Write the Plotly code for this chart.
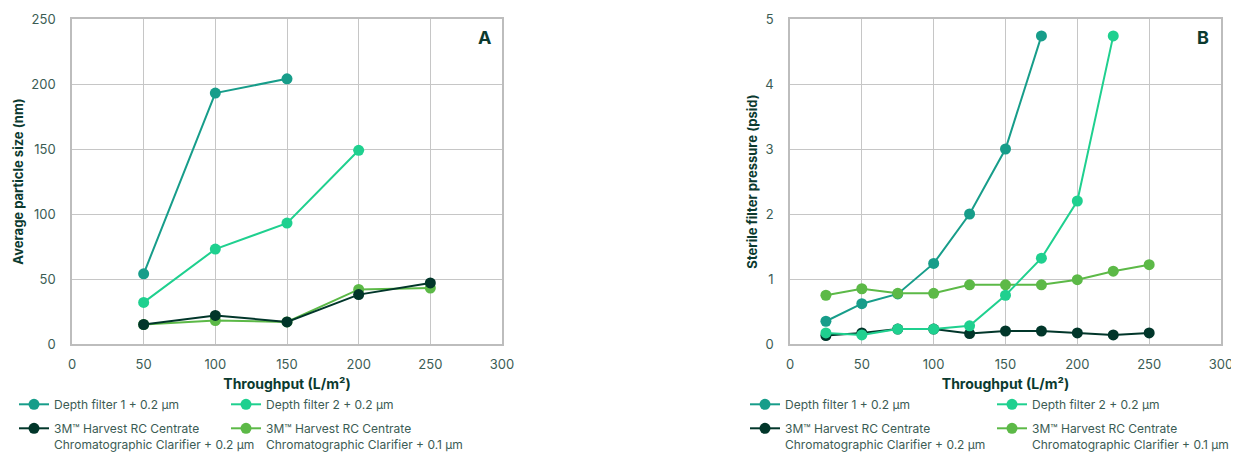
import plotly.graph_objects as go

# ---- data ----
names = [
    "Depth filter 1 + 0.2 µm",
    "Depth filter 2 + 0.2 µm",
    "3M™ Harvest RC Centrate<br>Chromatographic Clarifier + 0.2 µm",
    "3M™ Harvest RC Centrate<br>Chromatographic Clarifier + 0.1 µm",
]
colors = ["#179d8a", "#1fd08f", "#01362a", "#5cb947"]

# Panel A: average particle size (nm)
a_df1_x = [50, 100, 150]
a_df1_y = [54, 193, 204]
a_df2_x = [50, 100, 150, 200]
a_df2_y = [32, 73, 93, 149]
a_3m02_x = [50, 100, 150, 200, 250]
a_3m02_y = [15, 22, 17, 38, 47]
a_3m01_x = [50, 100, 150, 200, 250]
a_3m01_y = [15, 18, 17, 42, 43]

# Panel B: sterile filter pressure (psid)
b_df1_x = [25, 50, 75, 100, 125, 150, 175]
b_df1_y = [0.35, 0.62, 0.77, 1.24, 2.0, 3.0, 4.74]
b_df2_x = [25, 50, 75, 100, 125, 150, 175, 200, 225]
b_df2_y = [0.17, 0.14, 0.23, 0.23, 0.28, 0.75, 1.32, 2.2, 4.74]
b_3m02_x = [25, 50, 75, 100, 125, 150, 175, 200, 225, 250]
b_3m02_y = [0.13, 0.17, 0.23, 0.23, 0.16, 0.2, 0.2, 0.17, 0.14, 0.17]
b_3m01_x = [25, 50, 75, 100, 125, 150, 175, 200, 225, 250]
b_3m01_y = [0.75, 0.85, 0.78, 0.78, 0.91, 0.91, 0.91, 0.99, 1.12, 1.22]

x_ticks = [0, 50, 100, 150, 200, 250, 300]
a_y_ticks = [0, 50, 100, 150, 200, 250]
b_y_ticks = [0, 1, 2, 3, 4, 5]

FONT = "Inter"
TICK_C = "#3b5c54"
TITLE_C = "#0b3a2f"
GRID_C = "#c6c6c6"

# The page body has an 8px margin, so the figure is drawn 8px in from the corner.
OFF = 8
W, H = 1239 - OFF, 453 - OFF


def px(v):
    return v - OFF


fig = go.Figure()

panels = [
    ("x", "y", [(a_df1_x, a_df1_y), (a_df2_x, a_df2_y), (a_3m02_x, a_3m02_y), (a_3m01_x, a_3m01_y)], 0),
    ("x2", "y2", [(b_df1_x, b_df1_y), (b_df2_x, b_df2_y), (b_3m02_x, b_3m02_y), (b_3m01_x, b_3m01_y)], 4),
]
draw_order = [0, 3, 2, 1]
for xa, ya, series, off in panels:
    for i in draw_order:
        xs, ys = series[i]
        lg = "legend" if off + i == 0 else f"legend{off + i + 1}"
        fig.add_trace(go.Scatter(
            x=xs, y=ys, mode="lines+markers", name=names[i],
            line=dict(color=colors[i], width=2),
            marker=dict(color=colors[i], size=11),
            xaxis=xa, yaxis=ya, legend=lg, showlegend=True,
            hoverinfo="x+y",
        ))

# plot area geometry (screen pixels)
ax_left = [72, 790]
ax_right = [502, 1221]
ax_top, ax_bot = 19, 344

axis_common = dict(
    showgrid=True, gridcolor=GRID_C, gridwidth=1,
    showline=True, linecolor="#bdbdbd", linewidth=1.5, mirror=True,
    zeroline=False, ticks="", automargin=False,
    tickfont=dict(family=FONT, size=13, color=TICK_C),
)

layout = dict(
    width=W, height=H,
    margin=dict(l=0, r=0, t=0, b=0, autoexpand=False),
    paper_bgcolor="white", plot_bgcolor="white",
    font=dict(family=FONT, color=TICK_C),
    showlegend=True,
)
ydom = [1 - px(ax_bot) / H, 1 - px(ax_top) / H]
for k, (xa, ya) in enumerate([("xaxis", "yaxis"), ("xaxis2", "yaxis2")]):
    layout[xa] = dict(axis_common, domain=[px(ax_left[k]) / W, px(ax_right[k]) / W],
                      range=[0, 300], tickvals=x_ticks, ticklabelstandoff=8,
                      anchor="y" if k == 0 else "y2",
                      title=dict(text="Throughput (L/m²)", standoff=8,
                                 font=dict(family=FONT, size=14, color=TITLE_C, weight="bold")))
    yt = a_y_ticks if k == 0 else b_y_ticks
    layout[ya] = dict(axis_common, domain=ydom, range=[0, yt[-1]], tickvals=yt,
                      ticklabelstandoff=12,
                      anchor="x" if k == 0 else "x2",
                      title=dict(text="Average particle size (nm)" if k == 0 else "Sterile filter pressure (psid)",
                                 standoff=5,
                                 font=dict(family=FONT, size=13, color=TITLE_C, weight="bold")))

# legends: one per item, positioned like the reference (screen px of legend box)
leg_x = [[14, 226], [745, 992]]
leg_y = [390, 414]
for k in range(2):
    for i in range(4):
        idx = k * 4 + i
        key = "legend" if idx == 0 else f"legend{idx + 1}"
        row, col = i // 2, i % 2
        layout[key] = dict(
            x=px(leg_x[k][col]) / W, y=1 - px(leg_y[row]) / H,
            xanchor="left", yanchor="top",
            orientation="v", valign="top",
            bgcolor="rgba(0,0,0,0)", borderwidth=0,
            font=dict(family=FONT, size=12, color=TICK_C),
            itemwidth=30, tracegroupgap=0,
        )

fig.update_layout(**layout)

for lab, xr, yr in [("A", "x domain", "y domain"), ("B", "x2 domain", "y2 domain")]:
    fig.add_annotation(text=f"<b>{lab}</b>", x=(484 - 72) / 430, y=1 - 18.5 / 325,
                       xref=xr, yref=yr, showarrow=False,
                       xanchor="center", yanchor="middle",
                       font=dict(family=FONT, size=18, color=TITLE_C))

fig.write_html("out.html")
